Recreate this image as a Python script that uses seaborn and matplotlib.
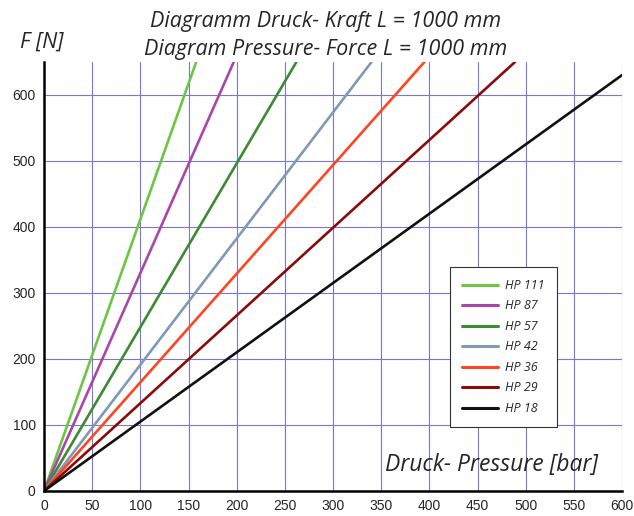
import pandas as pd
import matplotlib
matplotlib.use('Agg')
import matplotlib.pyplot as plt
import seaborn as sns

# series (lines start at the origin, end where they leave the plot)
series = ['HP 111', 'HP 87', 'HP 57', 'HP 42', 'HP 36', 'HP 29', 'HP 18']
pressure_start = [0, 0, 0, 0, 0, 0, 0]
force_start = [0, 0, 0, 0, 0, 0, 0]
pressure_end = [158, 197, 262, 340, 395, 489, 600]
force_end = [650, 650, 650, 650, 650, 650, 630]
colors = ['#6cc644', '#a847a8', '#3c8a32', '#7f99b6', '#ff4422', '#8b0a0a', '#111111']

x_ticks = list(range(0, 601, 50))
y_ticks = list(range(0, 601, 100))

rows = []
for name, p0, f0, p1, f1 in zip(series, pressure_start, force_start, pressure_end, force_end):
    rows.append({'series': name, 'pressure': p0, 'force': f0})
    rows.append({'series': name, 'pressure': p1, 'force': f1})
df = pd.DataFrame(rows)

sns.set_style('white')
plt.rcParams['font.family'] = ['Liberation Sans', 'DejaVu Sans']

fig = plt.figure(figsize=(6.34, 5.16), dpi=100)
ax = fig.add_axes([0.0694, 0.0485, 0.9117, 0.8315])

sns.lineplot(data=df, x='pressure', y='force', hue='series', hue_order=series,
             palette=dict(zip(series, colors)), linewidth=1.9, ax=ax, sort=False)

ax.set_xlim(0, 600)
ax.set_ylim(0, 650)
ax.set_xticks(x_ticks)
ax.set_yticks(y_ticks)
ax.grid(True, color='#7878d4', linewidth=0.8, linestyle='-')
ax.set_axisbelow(True)
for s in ['top', 'right']:
    ax.spines[s].set_visible(False)
for s in ['left', 'bottom']:
    ax.spines[s].set_color('black')
    ax.spines[s].set_linewidth(1.8)
ax.tick_params(axis='both', direction='out', length=4, width=1.5, labelsize=10,
               color='black', pad=2)
ax.set_xlabel('')
ax.set_ylabel('')

title_font = ['Open Sans', 'DejaVu Sans']
fig.text(0.513, 0.958, 'Diagramm Druck- Kraft L = 1000 mm', ha='center', va='center',
         fontsize=15.5, style='italic', family=title_font)
fig.text(0.513, 0.905, 'Diagram Pressure- Force L = 1000 mm', ha='center', va='center',
         fontsize=15.5, style='italic', family=title_font)
fig.text(0.032, 0.919, 'F [N]', ha='left', va='center', fontsize=15.5, style='italic',
         family=title_font)
ax.text(0.958, 0.06, 'Druck- Pressure [bar]', transform=ax.transAxes, ha='right',
        va='center', fontsize=16.5, style='italic', family=title_font)

leg = ax.legend(loc='upper left', bbox_to_anchor=(0.702, 0.522), frameon=True,
                fancybox=False, edgecolor='#333333', framealpha=1,
                prop={'family': title_font, 'style': 'italic', 'size': 9},
                handlelength=2.9, labelspacing=0.6, borderpad=0.95, handletextpad=0.6,
                borderaxespad=0)
leg.get_frame().set_linewidth(0.8)
for line in leg.get_lines():
    line.set_linewidth(2.2)

fig.savefig('out.png', dpi=100)
